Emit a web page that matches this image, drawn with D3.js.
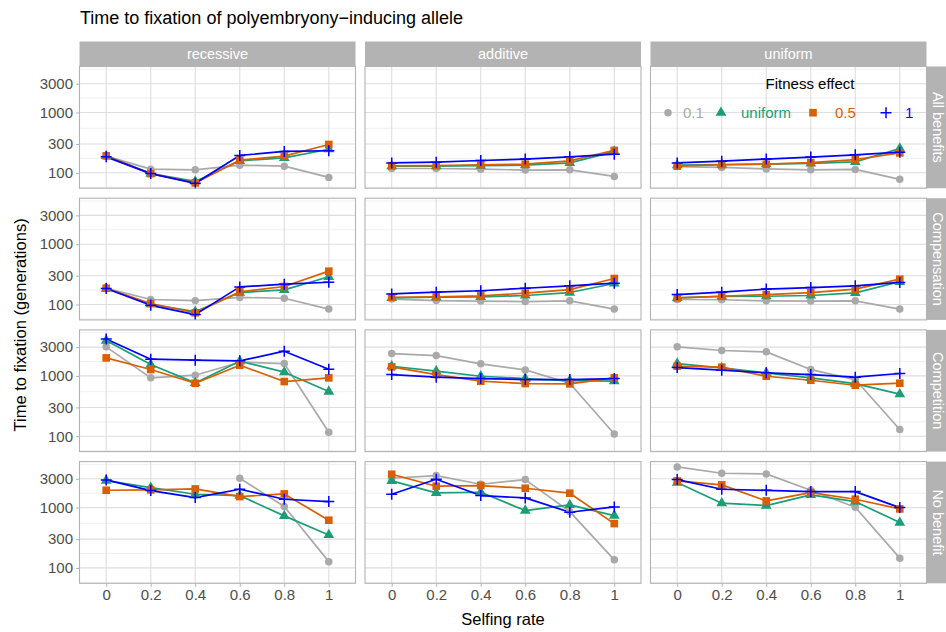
<!DOCTYPE html>
<html><head><meta charset="utf-8">
<script src="https://cdn.jsdelivr.net/npm/d3@7"></script>
<style>body{margin:0;background:#fff}svg{font-family:"Liberation Sans",Arial,sans-serif}</style>
</head><body><svg id="c" width="946" height="632"></svg>
<script>
// ---------------- data ----------------
const selfing = ["0","0.2","0.4","0.6","0.8","1"];
const dominance = ["recessive","additive","uniform"];
const scenarios = ["All benefits","Compensation","Competition","No benefit"];
const fitnessEffects = ["0.1","uniform","0.5","1"];
const yTicks = [100,300,1000,3000];
// rows: scenario x dominance (recessive, additive, uniform), values over selfing rate
const fx01 = [
  [189,115,112,134,129,84],[118,118,115,111,112,87],[127,123,116,112,114,78],
  [186,121,116,131,127,84],[123,116,114,112,115,84],[121,120,115,114,115,84],
  [3030,927,1026,1685,1601,116],[2344,2172,1582,1257,756,109],[3030,2632,2500,1273,869,129],
  [null,null,null,3063,1040,127],[3063,3390,2438,2912,859,136],[4720,3708,3613,1936,1014,145]
];
const fxUniform = [
  [190,97,72,158,177,246],[129,129,132,134,146,225],[134,137,139,143,152,253],
  [184,101,76,158,175,288],[129,132,134,141,158,223],[129,136,137,141,156,238],
  [3850,1541,765,1750,1151,550],[1445,1195,986,903,837,816],[1600,1358,1122,927,746,497],
  [2804,2144,1663,1581,728,352],[2767,1750,1796,892,1107,736],[2595,1181,1079,1622,1256,564]
];
const fx05 = [
  [191,97,68,162,189,295],[131,132,136,139,158,235],[129,136,139,148,166,214],
  [186,104,73,162,199,357],[132,134,139,154,177,270],[129,137,146,158,180,263],
  [1985,1273,755,1503,805,927],[1410,1052,816,746,737,927],[1445,1393,986,847,700,756],
  [1936,1960,2037,1521,1685,617],[3566,2259,2318,2090,1731,543],[2767,2377,1290,1774,1375,951]
];
const fx1 = [
  [184,97,67,194,226,232],[146,150,160,169,184,204],[146,156,169,182,199,220],
  [184,97,68,196,217,234],[150,160,169,186,204,226],[146,160,180,191,204,232],
  [4100,1888,1818,1774,2564,1290],[1052,950,903,870,870,903],[1374,1241,1122,1052,950,1094],
  [2878,1914,1466,2013,1375,1256],[1663,2951,1581,1445,837,1026],[2912,2013,1930,1841,1841,1000]
];
const seriesData = [fx01, fxUniform, fx05, fx1];
const colors = ["#a9a9a9","#1b9e77","#d95f02","#0000ff"];

// ---------------- layout ----------------
const svg = d3.select("#c");
const panelX0 = 79.5, panelW = 276, panelStepX = 285.5;
const panelY0 = 66.5, panelH = 121.7, panelStepY = 131.7;
const stripTopH = 25, stripRightW = 20;
const grid = "#dedede", border = "#b3b3b3";

const x = d3.scalePoint().domain(selfing).range([0, panelW]).padding(0.6);
const y = d3.scaleLog().domain([Math.pow(10,1.745), Math.pow(10,3.762)]).range([panelH, 0]);
const lt = yTicks.map(Math.log10);
const minorLog = [lt[0]-(lt[1]-lt[0])/2];
for (let i=0;i<lt.length-1;i++) minorLog.push((lt[i]+lt[i+1])/2);
minorLog.push(lt[lt.length-1]+(lt[lt.length-1]-lt[lt.length-2])/2);
const minorTicks = minorLog.map(v=>Math.pow(10,v)).filter(v=>v>y.domain()[0]&&v<y.domain()[1]);

const symbols = [d3.symbol(d3.symbolCircle, 44), d3.symbol(d3.symbolTriangle, 50), d3.symbol(d3.symbolSquare, 58)];
function drawPoint(g, k, px, py) {
  if (k < 3) {
    g.append("path").attr("d", symbols[k]()).attr("transform", `translate(${px},${py})`).attr("fill", colors[k]);
  } else {
    const s = 5.5;
    g.append("path").attr("d", `M${px-s},${py}H${px+s}M${px},${py-s}V${py+s}`)
      .attr("stroke", colors[k]).attr("stroke-width", 1.5).attr("fill", "none");
  }
}

// title
svg.append("text").attr("x", 80).attr("y", 24).attr("font-size", 18).attr("fill", "#000")
  .text("Time to fixation of polyembryony\u2212inducing allele");

scenarios.forEach((sc, r) => {
  dominance.forEach((dm, c) => {
    const gx = panelX0 + c*panelStepX, gy = panelY0 + r*panelStepY;
    const g = svg.append("g").attr("transform", `translate(${gx},${gy})`);
    g.selectAll(".mn").data(minorTicks).enter().append("line")
      .attr("x1",0).attr("x2",panelW).attr("y1",d=>y(d)).attr("y2",d=>y(d))
      .attr("stroke", "#ececec").attr("stroke-width", 0.8);
    g.selectAll(".mj").data(yTicks).enter().append("line")
      .attr("x1",0).attr("x2",panelW).attr("y1",d=>y(d)).attr("y2",d=>y(d))
      .attr("stroke", grid).attr("stroke-width", 1.1);
    g.selectAll(".vx").data(selfing).enter().append("line")
      .attr("y1",0).attr("y2",panelH).attr("x1",d=>x(d)).attr("x2",d=>x(d))
      .attr("stroke", grid).attr("stroke-width", 1.1);
    const idx = r*3 + c;
    seriesData.forEach((sd, k) => {
      const vals = sd[idx];
      const line = d3.line().defined(d=>d[1]!=null).x(d=>x(d[0])).y(d=>y(d[1]));
      g.append("path").attr("d", line(selfing.map((s,i)=>[s, vals[i]])))
        .attr("fill","none").attr("stroke", colors[k]).attr("stroke-width", 1.7)
        .attr("stroke-linejoin","round");
    });
    seriesData.forEach((sd, k) => {
      const vals = sd[idx];
      selfing.forEach((s,i)=>{ if (vals[i]!=null) drawPoint(g, k, x(s), y(vals[i])); });
    });
    g.append("rect").attr("x",0).attr("y",0).attr("width",panelW).attr("height",panelH)
      .attr("fill","none").attr("stroke",border).attr("stroke-width",1.1);
    if (c === 0) {
      const ax = d3.axisLeft(y).tickValues(yTicks).tickFormat(d3.format("d")).tickSize(3.5).tickPadding(3);
      const a = g.append("g").call(ax);
      a.select(".domain").remove();
      a.selectAll(".tick line").attr("stroke", border);
      a.selectAll(".tick text").attr("font-size", 15).attr("fill", "#4d4d4d").attr("font-family", "Liberation Sans, Arial, sans-serif");
    }
    if (r === scenarios.length-1) {
      const ax = d3.axisBottom(x).tickSize(3.5).tickPadding(3);
      const a = g.append("g").attr("transform", `translate(0,${panelH})`).call(ax);
      a.select(".domain").remove();
      a.selectAll(".tick line").attr("stroke", border);
      a.selectAll(".tick text").attr("font-size", 15).attr("fill", "#4d4d4d").attr("font-family", "Liberation Sans, Arial, sans-serif");
    }
    if (r === 0) {
      svg.append("rect").attr("x", gx).attr("y", gy - stripTopH).attr("width", panelW).attr("height", stripTopH).attr("fill", border);
      svg.append("text").attr("x", gx + panelW/2).attr("y", gy - stripTopH/2).attr("dy","0.35em")
        .attr("text-anchor","middle").attr("font-size",14.5).attr("fill","#fff").text(dm);
    }
    if (c === dominance.length-1) {
      const sx = gx + panelW + 0.5;
      svg.append("rect").attr("x", sx).attr("y", gy).attr("width", stripRightW).attr("height", panelH).attr("fill", border);
      svg.append("text").attr("transform", `translate(${sx + 11},${gy + panelH/2}) rotate(90)`).attr("dy","0.35em")
        .attr("text-anchor","middle").attr("font-size",14.5).attr("fill","#fff").text(sc);
    }
  });
});

svg.append("text").attr("x", panelX0 + (2*panelStepX + panelW)/2).attr("y", 625).attr("text-anchor","middle")
  .attr("font-size", 16.5).attr("fill","#000").text("Selfing rate");
svg.append("text").attr("transform", `translate(26,${panelY0 + (3*panelStepY + panelH)/2}) rotate(-90)`)
  .attr("text-anchor","middle").attr("font-size", 16.5).attr("fill","#000").text("Time to fixation (generations)");

const lg = svg.append("g");
lg.append("text").attr("x", 810).attr("y", 84).attr("dy","0.35em").attr("text-anchor","middle")
  .attr("font-size", 15).attr("fill","#000").text("Fitness effect");
const keyX = [668, 721, 813, 886];
const labX = [683, 741, 835, 905];
fitnessEffects.forEach((fe, k) => {
  drawPoint(lg, k, keyX[k], 112.7);
  lg.append("text").attr("x", labX[k]).attr("y", 112.7).attr("dy","0.35em")
    .attr("font-size", 15).attr("fill", colors[k]).text(fe);
});
</script></body></html>
